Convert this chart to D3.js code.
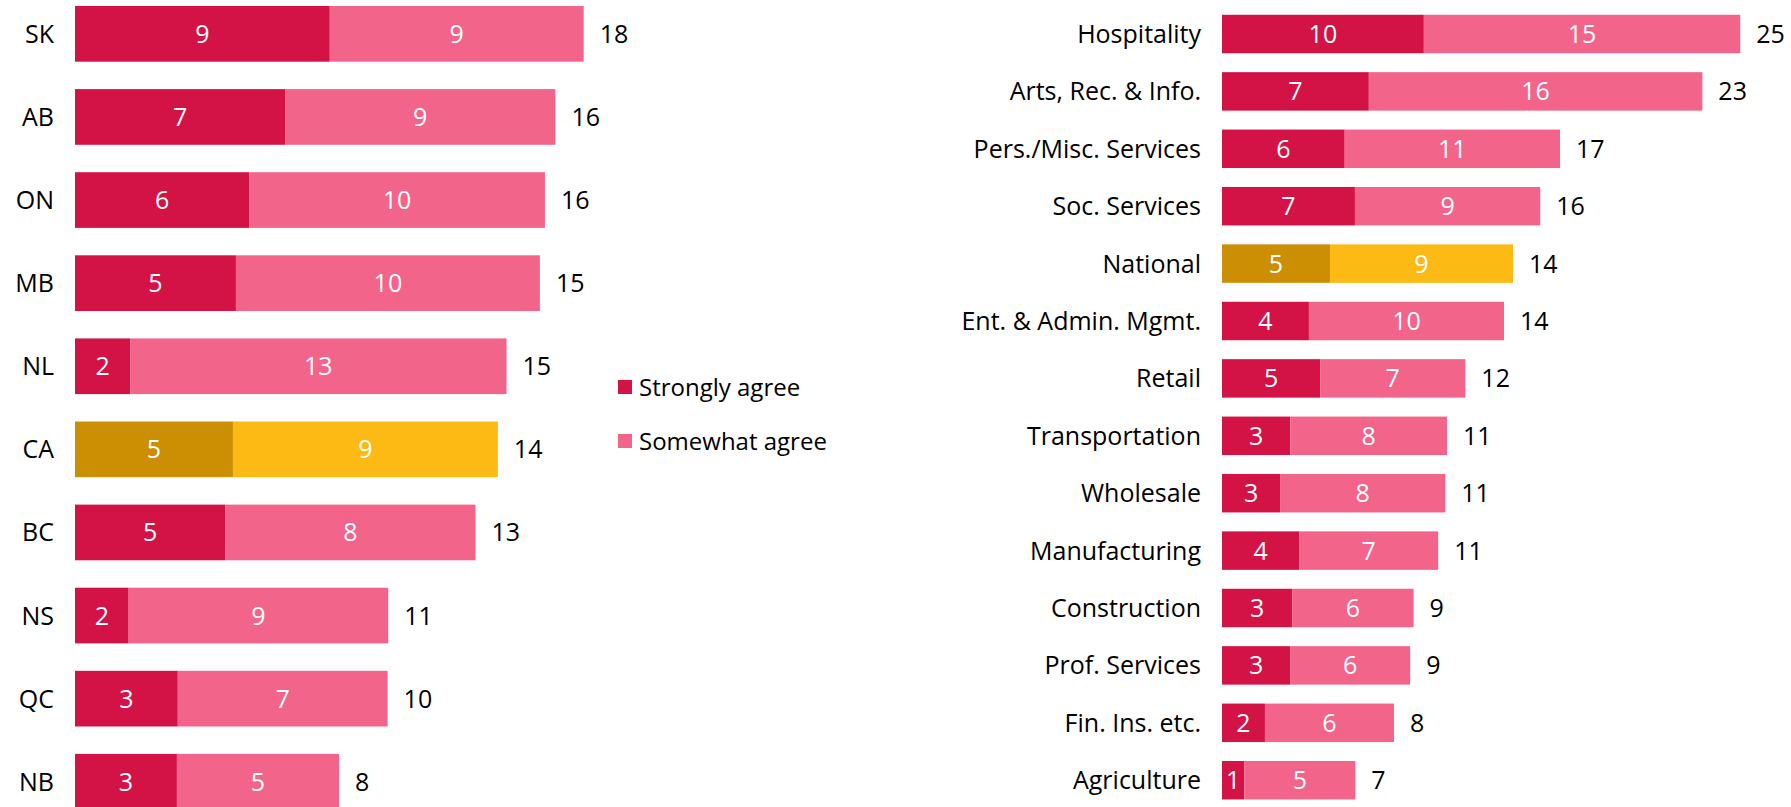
<!DOCTYPE html>
<html lang="en">
<head>
<meta charset="UTF-8">
<title>Agreement by province and industry</title>
<script src="https://d3js.org/d3.v7.min.js"></script>
<style>
    body { margin: 0; background: #fff; font-family: "Open Sans", "Noto Sans", Arial, sans-serif; }
    svg { display: block; }
</style>
</head>
<body>
<svg width="1791" height="807"></svg>
<script>
// left panel: provinces
const provinces = ["SK", "AB", "ON", "MB", "NL", "CA", "BC", "NS", "QC", "NB"];
const provStrong = [8.55, 7.05, 5.85, 5.4, 1.85, 5.3, 5.05, 1.8, 3.45, 3.42];
const provSome   = [8.52, 9.07, 9.92, 10.2, 12.63, 8.89, 8.39, 8.71, 7.04, 5.44];
const provStrongLbl = [9, 7, 6, 5, 2, 5, 5, 2, 3, 3];
const provSomeLbl   = [9, 9, 10, 10, 13, 9, 8, 9, 7, 5];
const provTotal     = [18, 16, 16, 15, 15, 14, 13, 11, 10, 8];

// right panel: industries
const industries = ["Hospitality", "Arts, Rec. & Info.", "Pers./Misc. Services", "Soc. Services",
    "National", "Ent. & Admin. Mgmt.", "Retail", "Transportation", "Wholesale", "Manufacturing",
    "Construction", "Prof. Services", "Fin. Ins. etc.", "Agriculture"];
const indStrong = [9.87, 7.18, 6.0, 6.5, 5.28, 4.25, 4.8, 3.34, 2.84, 3.78, 3.43, 3.33, 2.1, 1.09];
const indSome   = [15.47, 16.31, 10.53, 9.06, 8.95, 9.54, 7.1, 7.66, 8.08, 6.79, 5.94, 5.87, 6.31, 5.43];
const indStrongLbl = [10, 7, 6, 7, 5, 4, 5, 3, 3, 4, 3, 3, 2, 1];
const indSomeLbl   = [15, 16, 11, 9, 9, 10, 7, 8, 8, 7, 6, 6, 6, 5];
const indTotal     = [25, 23, 17, 16, 14, 14, 12, 11, 11, 11, 9, 9, 8, 7];

const highlight = ["CA", "National"];
const legendLabels = ["Strongly agree", "Somewhat agree"];

const colors = {
    strong: "#d31245", some: "#f2648a",
    strongHi: "#cc8e02", someHi: "#fdb914"
};

const svg = d3.select("svg");

function drawPanel(cats, strong, some, strongLbl, someLbl, totals, x, y) {
    const rows = cats.map((c, i) => ({
        cat: c, strong: strong[i], some: some[i],
        lbl: { strong: strongLbl[i], some: someLbl[i] }, total: totals[i]
    }));
    const series = d3.stack().keys(["strong", "some"])(rows);
    const g = svg.append("g");

    series.forEach(s => {
        g.selectAll(null)
            .data(s)
            .enter().append("rect")
            .attr("x", d => x(d[0]))
            .attr("y", d => y(d.data.cat))
            .attr("width", d => x(d[1]) - x(d[0]))
            .attr("height", y.bandwidth())
            .attr("fill", d => {
                const hi = highlight.includes(d.data.cat);
                return colors[s.key + (hi ? "Hi" : "")];
            });

        g.selectAll(null)
            .data(s)
            .enter().append("text")
            .attr("x", d => (x(d[0]) + x(d[1])) / 2)
            .attr("y", d => y(d.data.cat) + y.bandwidth() / 2)
            .attr("dy", "0.36em")
            .attr("text-anchor", "middle")
            .attr("fill", "#fff")
            .attr("font-size", "25px")
            .text(d => d.data.lbl[s.key]);
    });

    // category labels
    g.selectAll(null)
        .data(rows)
        .enter().append("text")
        .attr("x", x(0) - 21)
        .attr("y", d => y(d.cat) + y.bandwidth() / 2)
        .attr("dy", "0.36em")
        .attr("text-anchor", "end")
        .attr("fill", "#000")
        .attr("font-size", "25px")
        .text(d => d.cat);

    // totals
    g.selectAll(null)
        .data(rows)
        .enter().append("text")
        .attr("x", d => x(d.strong + d.some) + 16)
        .attr("y", d => y(d.cat) + y.bandwidth() / 2)
        .attr("dy", "0.36em")
        .attr("fill", "#000")
        .attr("font-size", "25px")
        .text(d => d.total);
}

const xLeft = d3.scaleLinear().domain([0, 20]).range([75, 75 + 20 * 29.8]);
const yLeft = d3.scaleBand().domain(provinces).range([-7.7, 823.3])
    .paddingInner(0.33).paddingOuter(0.165);

const xRight = d3.scaleLinear().domain([0, 26]).range([1222, 1222 + 26 * 20.45]);
const yRight = d3.scaleBand().domain(industries).range([5.3, 808.9])
    .paddingInner(0.33).paddingOuter(0.165);

drawPanel(provinces, provStrong, provSome, provStrongLbl, provSomeLbl, provTotal, xLeft, yLeft);
drawPanel(industries, indStrong, indSome, indStrongLbl, indSomeLbl, indTotal, xRight, yRight);

// legend
const legend = svg.append("g").attr("transform", "translate(618,380)");
legendLabels.forEach((t, i) => {
    legend.append("rect")
        .attr("x", 0).attr("y", i * 54)
        .attr("width", 14).attr("height", 14)
        .attr("fill", i === 0 ? colors.strong : colors.some);
    legend.append("text")
        .attr("x", 21).attr("y", i * 54 + 7)
        .attr("dy", "0.36em")
        .attr("font-size", "24px")
        .attr("fill", "#000")
        .text(t);
});
</script>
</body>
</html>
